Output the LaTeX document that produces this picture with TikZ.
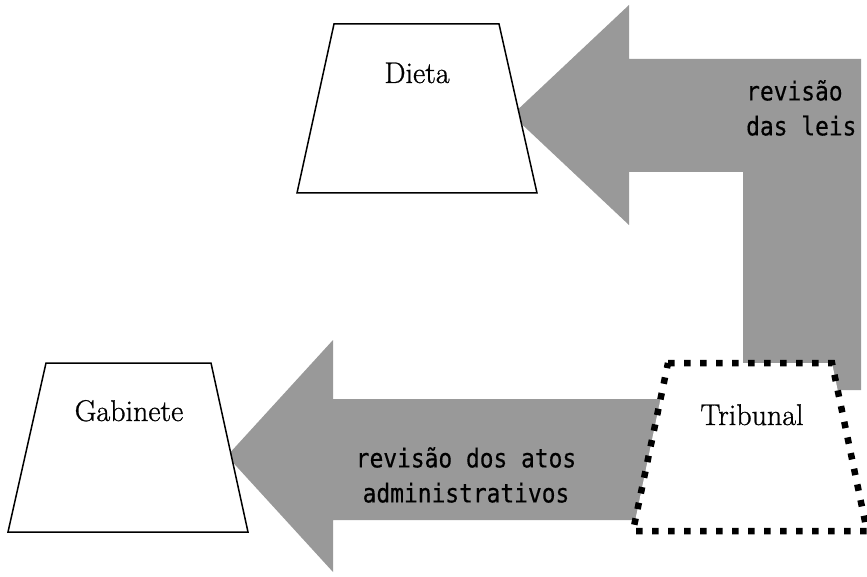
\documentclass[tikz,border=0pt]{standalone}
\usepackage{fontspec}
\newfontfamily\gothicfont[FakeStretch=0.88,FakeBold=0.4]{DejaVu Sans Mono}
\newfontfamily\organfont[FakeBold=0.9]{Latin Modern Roman}
\usepackage{xcolor}
\definecolor{arrowgray}{RGB}{153,153,153}

\begin{document}
\begin{tikzpicture}[x=1pt,y=-1pt,organ/.style={draw=black,fill=white,line width=1.5pt},court/.style={draw=black,fill=white,line width=6.5pt,dash pattern=on 6.5pt off 9.5pt},flow/.style={fill=arrowgray},organname/.style={font=\organfont\fontsize{30}{36}\selectfont,anchor=base,inner sep=0pt},flownote/.style={font=\gothicfont\fontsize{26}{35}\selectfont,inner sep=0pt}]
				\useasboundingbox (0,0) rectangle (867,577);
				% review arrows, drawn under the organs
				\fill[flow] (512,115) coordinate (tipD) -- (629,5) -- (629,59) -- (861,59) -- (861,390) -- (743,390) -- (743,172) -- (629,172) -- (629,225) -- cycle;
				\fill[flow] (227,456) coordinate (tipG) -- (333,340) -- (333,399) -- (700,399) -- (700,520) -- (333,520) -- (333,572) -- cycle;
				% organs
				\draw[organ] (334,24) -- (499,24) -- (537,193) -- (297,193) -- cycle;
				\draw[organ] (46,363) -- (211,363) -- (248,532) -- (8,532) -- cycle;
				\draw[court] (668,363) -- (832,363) -- (867,531) -- (633,531) -- cycle;
				\node[organname] (dieta) at (417,83) {Dieta};
				\node[organname] (gabinete) at (129,421) {Gabinete};
				\node[organname] (tribunal) at (752,425) {Tribunal};
				\node[flownote,anchor=west,align=left] (leis) at (746,108) {revisão\\das leis};
				\node[flownote,align=center] (atos) at (466,475) {revisão dos atos\\administrativos};
			\end{tikzpicture}
\end{document}
